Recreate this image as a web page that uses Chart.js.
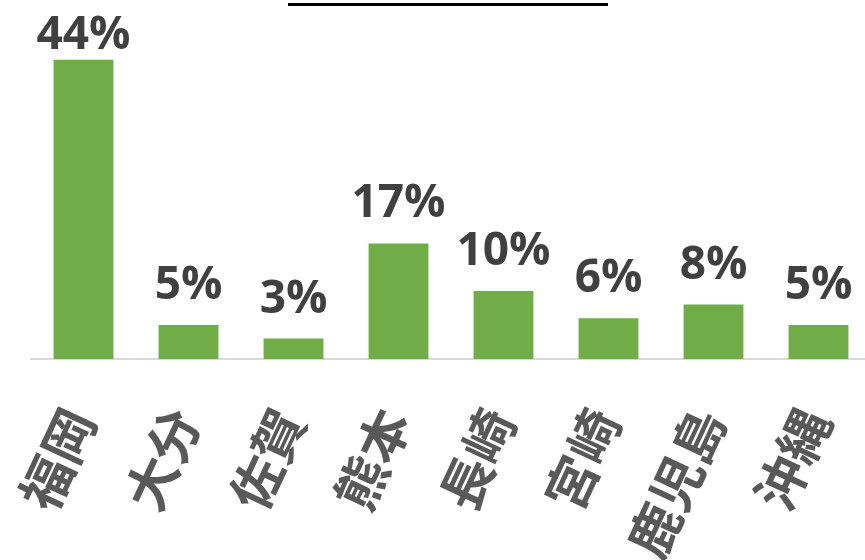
<!DOCTYPE html>
<html>
<head>
<meta charset="utf-8">
<title>出身地別の割合</title>
<script src="https://cdn.jsdelivr.net/npm/chart.js@4.4.1/dist/chart.umd.min.js"></script>
<style>
  html, body { margin: 0; padding: 0; overflow: hidden; background: #fff; }
</style>
</head>
<body>
<canvas id="share" width="880" height="560"></canvas>
<script>
const prefectures = ['福岡', '大分', '佐賀', '熊本', '長崎', '宮崎', '鹿児島', '沖縄'];
const shares = [44, 5, 3, 17, 10, 6, 8, 5];

// percentage above each bar
const valueLabels = {
    id: 'valueLabels',
    afterDatasetsDraw(chart) {
        const ctx = chart.ctx;
        const meta = chart.getDatasetMeta(0);
        ctx.save();
        ctx.font = 'bold 46px "Open Sans"';
        ctx.fillStyle = '#404040';
        ctx.textAlign = 'center';
        ctx.textBaseline = 'alphabetic';
        meta.data.forEach((bar, i) => {
            const y = Math.max(bar.y - 26, 49);
            ctx.fillText(shares[i] + '%', bar.x, y);
        });
        ctx.restore();
    }
};

// heading underline
const headingLine = {
    id: 'headingLine',
    afterDraw(chart) {
        const ctx = chart.ctx;
        ctx.save();
        ctx.fillStyle = '#000';
        ctx.fillRect(288, 3, 320, 3);
        ctx.restore();
    }
};

new Chart(document.getElementById('share'), {
    type: 'bar',
    data: {
        labels: prefectures,
        datasets: [{
            data: shares,
            backgroundColor: '#70AD47',
            barPercentage: 0.57,
            categoryPercentage: 1
        }]
    },
    options: {
        responsive: false,
        animation: false,
        layout: { padding: { top: 19, left: 31, right: 9, bottom: 0 } },
        plugins: {
            legend: { display: false },
            tooltip: { enabled: false }
        },
        scales: {
            x: {
                grid: { display: false, drawTicks: false },
                border: { display: true, color: '#d9d9d9', width: 2 },
                ticks: {
                    autoSkip: false,
                    minRotation: 65,
                    maxRotation: 65,
                    padding: 40,
                    labelOffset: -4,
                    color: '#595959',
                    font: { family: '"Noto Sans CJK JP"', size: 52, weight: 'bold' }
                },
                afterFit(scale) {
                    scale.height = 201;
                    scale.paddingLeft = 0;
                    scale.paddingRight = 0;
                }
            },
            y: {
                display: false,
                min: 0,
                max: 50
            }
        }
    },
    plugins: [valueLabels, headingLine]
});
</script>
</body>
</html>
